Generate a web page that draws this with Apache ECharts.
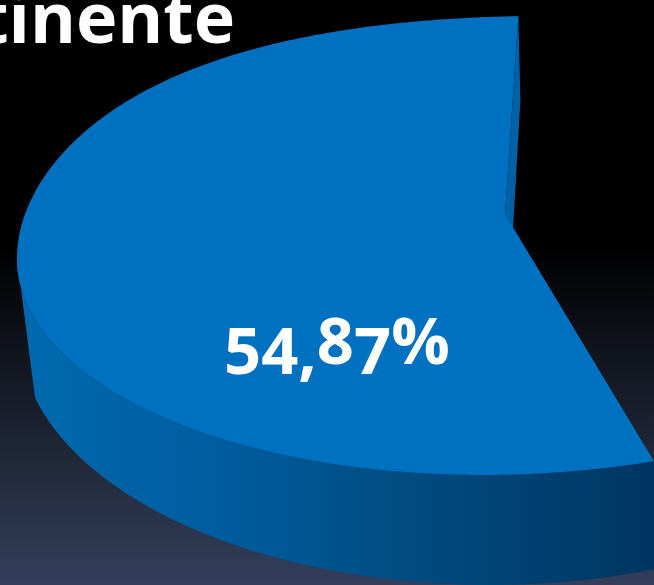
<!DOCTYPE html>
<html>
<head>
<meta charset="utf-8">
<style>html,body{margin:0;padding:0;background:#000;overflow:hidden}#c{width:654px;height:585px}</style>
<script src="https://cdn.jsdelivr.net/npm/echarts@6/dist/echarts.min.js"></script>
</head>
<body>
<div id="c"></div>
<script>
const titleText = 'tinente';
const categories = ['Continente'];
const shares = [54.87];

const START = 2.5;
const top_ = {cx: 511.5, cy: 245.5, rx: 493.7, ry: 229.5, s: 28.5};
const bottom_ = {cx: 490, cy: 335, rx: 470, ry: 250};
const rad = d => d * Math.PI / 180;
// the back-left of the rim bulges slightly in the perspective of the picture
const bump = t => (t > 0 && t < 94.7) ? Math.pow(Math.sin(rad(t * 1.9)), 2) : 0;
const topPt = t => [
  top_.cx - top_.rx * Math.sin(rad(t)) + top_.s * Math.cos(rad(t)) - 5 * bump(t),
  top_.cy - top_.ry * Math.cos(rad(t)) - 8 * bump(t)
];
const botPt = t => [
  bottom_.cx - bottom_.rx * Math.sin(rad(t)),
  bottom_.cy - bottom_.ry * Math.cos(rad(t))
];
const sweep = v => v / 100 * 360;

// old-style figures: these glyphs sit lower than the others
const lowChars = '3457,9';
function richLabel(v) {
  const s = v.toFixed(2).replace('.', ',') + '%';
  return s.split('').map(ch => (lowChars.indexOf(ch) >= 0 ? '{lo|' : '{hi|') + ch + '}').join('');
}

function renderItem(params, api) {
  const v = api.value(0);
  const end = START + sweep(v);
  const apex = [505, 214];
  const surface = [apex], wall = [];
  for (let t = START; t <= end; t += 0.5) surface.push(topPt(t));
  surface.push(topPt(end));
  for (let t = 93; t <= end; t += 0.5) wall.push(topPt(t));
  wall.push(topPt(end));
  wall.push([700, 480]);
  for (let t = end + 12; t >= 104.5; t -= 0.5) wall.push(botPt(t));
  const s0 = topPt(START);
  const inner = [s0, [s0[0] + 2, 100], [513, 229.5], apex];
  const fs = 65;
  const base = {fontFamily: 'Open Sans', fontWeight: 700, fontSize: fs, fill: '#fff', lineHeight: 90, verticalAlign: 'bottom'};
  return {
    type: 'group',
    children: [
      {type: 'polygon', shape: {points: wall}, style: {
        fill: {type: 'linear', x: 0, y: 0, x2: 1, y2: 0, colorStops: [
          {offset: 0, color: '#006aaf'},
          {offset: 0.28, color: '#005c9e'},
          {offset: 0.55, color: '#004b80'},
          {offset: 0.9, color: '#00345f'},
          {offset: 1, color: '#002f57'}
        ]}
      }},
      {type: 'polygon', shape: {points: inner}, style: {fill: '#0061a6'}},
      {type: 'polygon', shape: {points: surface}, style: {fill: '#0070c0'}},
      {type: 'text', x: 224, y: 388, style: {
        text: richLabel(v),
        textAlign: 'left', textVerticalAlign: 'bottom',
        rich: {
          lo: Object.assign({}, base, {padding: [0, 0, 0, 0]}),
          hi: Object.assign({}, base, {padding: [0, 0, 10, 0]})
        }
      }}
    ]
  };
}

const chart = echarts.init(document.getElementById('c'), null, {renderer: 'canvas'});
chart.setOption({
  animation: false,
  backgroundColor: {
    type: 'linear', x: 0, y: 0, x2: 0, y2: 1,
    colorStops: [
      {offset: 0, color: '#000000'},
      {offset: 0.42, color: '#000000'},
      {offset: 1, color: '#333f5b'}
    ]
  },
  title: {
    text: titleText, right: 414, top: -17,
    textStyle: {color: '#fff', fontFamily: 'Open Sans', fontWeight: 700, fontSize: 70}
  },
  series: [{
    type: 'custom',
    name: categories[0],
    coordinateSystem: 'none',
    renderItem: renderItem,
    data: shares.map(v => [v]),
    silent: true
  }]
});
</script>
</body>
</html>
